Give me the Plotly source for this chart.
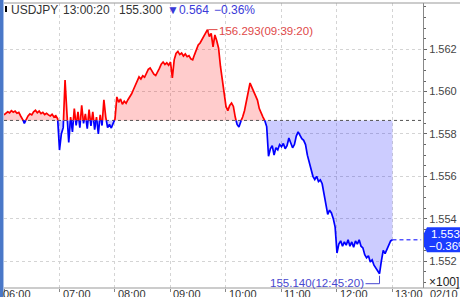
import plotly.graph_objects as go

# ---------------- data ----------------
symbol = "USDJPY"
last_time = "13:00:20"
last_price = 155.300
change = -0.564
change_pct = -0.36
prev_close = round(last_price - change, 3)   # 155.864
scale = 100.0
step_min = 2  # minutes between samples, from 06:00

prices = [
    155.890, 155.898, 155.905, 155.900, 155.910, 155.903, 155.908, 155.898, 155.902, 155.885,
    155.872, 155.850, 155.868, 155.885, 155.895, 155.890, 155.905, 155.912, 155.900, 155.908,
    155.896, 155.902, 155.892, 155.898, 155.890, 155.885, 155.893, 155.880, 155.886, 155.872,
    155.724, 155.800, 155.830, 156.055, 155.900, 155.760, 155.880, 155.810, 155.920, 155.840,
    155.905, 155.830, 155.935, 155.850, 155.895, 155.825, 155.915, 155.838, 155.905, 155.820,
    155.880, 155.800, 155.890, 155.840, 155.961, 155.880, 155.830, 155.845, 155.828, 155.850,
    155.870, 155.975, 155.950, 155.965, 155.940, 155.955, 155.945, 155.962, 155.975, 155.990,
    156.010, 156.030, 156.045, 156.070, 156.060, 156.075, 156.068, 156.090, 156.105, 156.112,
    156.095, 156.082, 156.076, 156.090, 156.110, 156.130, 156.140, 156.128, 156.136, 156.125,
    156.140, 156.065, 156.150, 156.180, 156.190, 156.175, 156.182, 156.168, 156.178, 156.165,
    156.170, 156.155, 156.150, 156.175, 156.200, 156.220, 156.230, 156.245, 156.265, 156.275,
    156.293, 156.260, 156.275, 156.211, 156.268, 156.240, 156.205, 156.120, 156.060, 155.995,
    155.930, 155.910, 155.935, 155.946, 155.930, 155.880, 155.845, 155.833, 155.860, 155.880,
    155.910, 155.960, 156.010, 156.041, 156.020, 156.000, 155.975, 155.960, 155.920, 155.895,
    155.880, 155.862, 155.835, 155.695, 155.730, 155.745, 155.700, 155.735, 155.725, 155.750,
    155.740, 155.755, 155.730, 155.745, 155.781, 155.760, 155.735, 155.750, 155.790, 155.810,
    155.790, 155.778, 155.770, 155.750, 155.700, 155.663, 155.640, 155.600, 155.585, 155.600,
    155.575, 155.583, 155.565, 155.510, 155.465, 155.420, 155.440, 155.427, 155.400, 155.360,
    155.238, 155.280, 155.295, 155.270, 155.290, 155.275, 155.300, 155.270, 155.290, 155.265,
    155.295, 155.280, 155.300, 155.270, 155.262, 155.230, 155.215, 155.225, 155.195, 155.205,
    155.180, 155.165, 155.150, 155.140, 155.200, 155.250, 155.235, 155.255, 155.270, 155.295,
    155.300,
]
minutes = [i * step_min for i in range(len(prices))]

hour_labels = ["06:00", "07:00", "08:00", "09:00", "10:00", "11:00", "12:00", "13:00"]
hour_minutes = [i * 60 for i in range(len(hour_labels))]
date_label = "02/10"
ytick_vals = [1.552, 1.554, 1.556, 1.558, 1.560, 1.562]
ytick_text = ["1.552", "1.554", "1.556", "1.558", "1.560", "1.562"]
scale_label = "×100]"
hi_time = "09:39:20"
lo_time = "12:45:20"

# ---------------- geometry ----------------
W, H = 460, 297
PL, PR, PT, PB = 4, 423, 3, 288          # plot area in pixels
X_RANGE = [0, 453]
Y_RANGE = [1.5507246, 1.564187]


def pxx(X):
    return (X - PL) / (PR - PL)


def pxy(Y):
    return (PB - Y) / (PB - PT)


RED = "#ff0000"
BLUE = "#0000ff"
ref = prev_close / scale

# build series with crossing points
xs, ys = [], []
for i, (m, p) in enumerate(zip(minutes, prices)):
    v = p / scale
    if i > 0:
        a = prices[i - 1] / scale - ref
        b = v - ref
        if a * b < 0:
            t = a / (a - b)
            xs.append(minutes[i - 1] + t * (m - minutes[i - 1]))
            ys.append(ref)
    xs.append(m)
    ys.append(v)

upper = [max(y, ref) for y in ys]
lower = [min(y, ref) for y in ys]
red_y = [y if y >= ref else None for y in ys]
blue_y = [y if y <= ref else None for y in ys]
ref_y = [ref] * len(xs)

fig = go.Figure()
fig.add_trace(go.Scatter(x=xs, y=ref_y, mode="lines", line=dict(width=0), hoverinfo="skip", showlegend=False))
fig.add_trace(go.Scatter(x=xs, y=upper, mode="lines", line=dict(width=0), fill="tonexty",
                         fillcolor="rgba(255,0,0,0.2)", hoverinfo="skip", showlegend=False))
fig.add_trace(go.Scatter(x=xs, y=ref_y, mode="lines", line=dict(width=0), hoverinfo="skip", showlegend=False))
fig.add_trace(go.Scatter(x=xs, y=lower, mode="lines", line=dict(width=0), fill="tonexty",
                         fillcolor="rgba(0,0,255,0.2)", hoverinfo="skip", showlegend=False))
# previous close dotted line
fig.add_trace(go.Scatter(x=X_RANGE, y=[ref, ref], mode="lines",
                         line=dict(color="#555555", width=1, dash="dot"), hoverinfo="skip", showlegend=False))
fig.add_trace(go.Scatter(x=xs, y=red_y, mode="lines", line=dict(color=RED, width=1.7),
                         connectgaps=False, hoverinfo="skip", showlegend=False))
fig.add_trace(go.Scatter(x=xs, y=blue_y, mode="lines", line=dict(color=BLUE, width=1.7),
                         connectgaps=False, hoverinfo="skip", showlegend=False))
# last price dashed line to the axis
fig.add_trace(go.Scatter(x=[minutes[-1], X_RANGE[1] - 2], y=[last_price / scale] * 2, mode="lines",
                         line=dict(color=BLUE, width=1, dash="4px,3px"), hoverinfo="skip", showlegend=False))

FONT = "Liberation Sans, Arial, sans-serif"
ann = []
shapes = []

# header
hdr_y = pxy(10)
ann += [
    dict(text=symbol, x=pxx(9), y=hdr_y, xref="paper", yref="paper", xanchor="left", yanchor="middle",
         showarrow=False, font=dict(size=12, color="#333333", family=FONT)),
    dict(text=last_time, x=pxx(61), y=hdr_y, xref="paper", yref="paper", xanchor="left", yanchor="middle",
         showarrow=False, font=dict(size=12, color="#333333", family=FONT)),
    dict(text=f"{last_price:.3f}", x=pxx(117), y=hdr_y, xref="paper", yref="paper", xanchor="left",
         yanchor="middle", showarrow=False, font=dict(size=12, color="#333333", family=FONT)),
    dict(text=f"▼{abs(change):.3f}", x=pxx(165), y=hdr_y, xref="paper", yref="paper", xanchor="left",
         yanchor="middle", showarrow=False, font=dict(size=12, color="#3a3ad8", family=FONT)),
    dict(text=f"−{abs(change_pct):.2f}%", x=pxx(212), y=hdr_y, xref="paper", yref="paper", xanchor="left",
         yanchor="middle", showarrow=False, font=dict(size=12, color="#3a3ad8", family=FONT)),
]
shapes.append(dict(type="rect", xref="paper", yref="paper", x0=pxx(5), x1=pxx(7), y0=pxy(12), y1=pxy(6),
                   fillcolor="#000000", line=dict(width=0)))

# high / low annotations
i_hi = max(range(len(prices)), key=lambda i: prices[i])
i_lo = min(range(len(prices)), key=lambda i: prices[i])
ann.append(dict(text=f"{prices[i_hi]:.3f}({hi_time})", x=minutes[i_hi], y=prices[i_hi] / scale,
                xref="x", yref="y", xanchor="left", yanchor="middle", xshift=10, yshift=-1,
                showarrow=False, font=dict(size=11.5, color="#e04848", family=FONT)))
shapes.append(dict(type="path", xref="x", yref="y", xsizemode="pixel", ysizemode="pixel",
                   xanchor=minutes[i_hi], yanchor=prices[i_hi] / scale,
                   path="M 1,-3 L 1,0 L 10,0", line=dict(color="#e04848", width=1)))
ann.append(dict(text=f"{prices[i_lo]:.3f}({lo_time})", x=minutes[i_lo], y=prices[i_lo] / scale,
                xref="x", yref="y", xanchor="right", yanchor="middle", xshift=-14, yshift=-9,
                showarrow=False, font=dict(size=11.5, color="#4848d0", family=FONT)))
shapes.append(dict(type="path", xref="x", yref="y", xsizemode="pixel", ysizemode="pixel",
                   xanchor=minutes[i_lo], yanchor=prices[i_lo] / scale,
                   path="M -14,-10 L 0,-10 L 0,-2", line=dict(color="#4848d0", width=1)))

# x tick labels
for lab, m in zip(hour_labels, hour_minutes):
    ann.append(dict(text=lab, x=m, y=pxy(294), xref="x", yref="paper", xanchor="left", yanchor="middle",
                    xshift=(1 if m > 0 else -3), showarrow=False, font=dict(size=11, color="#333333", family=FONT)))
ann.append(dict(text=date_label, x=pxx(428), y=pxy(294), xref="paper", yref="paper", xanchor="left",
                yanchor="middle", showarrow=False, font=dict(size=11, color="#333333", family=FONT)))
ann.append(dict(text=scale_label, x=pxx(427), y=pxy(282), xref="paper", yref="paper", xanchor="left",
                yanchor="middle", showarrow=False, font=dict(size=12, color="#222222", family=FONT)))

# last price box on the axis
px_per_unit = (PB - PT) / (Y_RANGE[1] - Y_RANGE[0])
lp = last_price / scale
hh = 12.5 / px_per_unit
nh = 6.5 / px_per_unit
box_path = (f"M {pxx(427)},{lp + hh} L {pxx(424)},{lp + nh} L {pxx(424)},{lp - nh} "
            f"L {pxx(427)},{lp - hh} L {pxx(462)},{lp - hh} L {pxx(462)},{lp + hh} Z")
shapes.append(dict(type="path", xref="paper", yref="y", path=box_path, fillcolor="#1a3cff",
                   line=dict(width=0), layer="above"))
ann.append(dict(text=f"{lp:.3f}", x=pxx(429), y=lp, xref="paper", yref="y", xanchor="left", yanchor="middle",
                yshift=6, showarrow=False, font=dict(size=11.5, color="white", family=FONT)))
ann.append(dict(text=f"−{abs(change_pct):.2f}%", x=pxx(427), y=lp, xref="paper", yref="y", xanchor="left",
                yanchor="middle", yshift=-6, showarrow=False, font=dict(size=11.5, color="white", family=FONT)))

# frame lines and left blue border
shapes += [
    dict(type="line", xref="paper", yref="paper", x0=pxx(0), x1=pxx(460), y0=1, y1=1,
         line=dict(color="#999999", width=1)),
    dict(type="line", xref="paper", yref="paper", x0=pxx(0), x1=pxx(460), y0=0, y1=0,
         line=dict(color="#999999", width=1)),
    dict(type="rect", xref="paper", yref="paper", x0=pxx(0), x1=pxx(3), y0=pxy(297), y1=pxy(0),
         fillcolor="#4a78c8", line=dict(width=0)),
    dict(type="line", xref="paper", yref="paper", x0=pxx(3.5), x1=pxx(3.5), y0=pxy(297), y1=pxy(0),
         line=dict(color="#a8c0e8", width=1)),
]

fig.update_layout(
    width=W, height=H,
    margin=dict(l=PL, r=W - PR, t=PT, b=H - PB),
    paper_bgcolor="white", plot_bgcolor="white",
    showlegend=False,
    annotations=ann, shapes=shapes,
    xaxis=dict(range=X_RANGE, tickvals=hour_minutes, showticklabels=False, ticks="outside", ticklen=3,
               tickcolor="#888888", showgrid=True, gridcolor="#d4d4d4", griddash="3px,3px", gridwidth=1,
               zeroline=False, showline=False, fixedrange=True),
    yaxis=dict(range=Y_RANGE, side="right", tickvals=ytick_vals, ticktext=ytick_text, ticks="outside",
               ticklen=3, tickcolor="#666666", tickfont=dict(size=11, color="#444444", family=FONT),
               showgrid=True, gridcolor="#d4d4d4", griddash="3px,3px", gridwidth=1, zeroline=False,
               showline=True, linecolor="#888888", linewidth=1,
               minor=dict(tick0=1.552, dtick=0.0005, ticks="outside", ticklen=2, tickcolor="#666666",
                          showgrid=False)),
)

fig.write_html("out.html")
